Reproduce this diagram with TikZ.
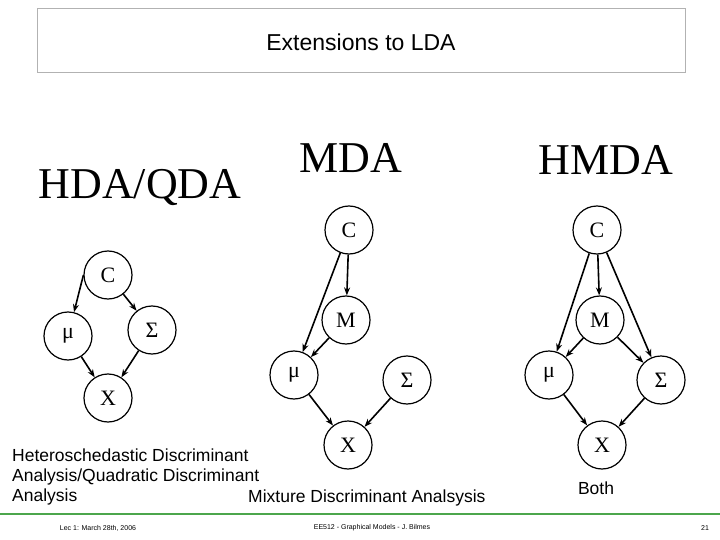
\documentclass[tikz,border=0pt]{standalone}
\usepackage{fontspec}
\setmainfont{Liberation Serif}
\setsansfont{Liberation Sans}
\usetikzlibrary{arrows.meta}
\begin{document}
\begin{tikzpicture}[x=1pt,y=-1pt,
  gnode/.style={draw,circle,minimum size=48pt,inner sep=0pt,line width=1.2pt,font=\fontsize{22}{22}\selectfont},
  edge/.style={-{Stealth[length=8pt,width=6pt]},line width=1.6pt},
  lab/.style={font=\sffamily\fontsize{17.5}{20}\selectfont,inner sep=0pt},
  foot/.style={font=\sffamily\fontsize{7}{8}\selectfont,inner sep=0pt}]
\useasboundingbox (0,0) rectangle (720,540);
\draw[gray!60] (37,8) rectangle (685,72);
\node[font=\sffamily\fontsize{23}{26}\selectfont] (title) at (361,42) {Extensions to LDA};
\node[font=\fontsize{44}{44}\selectfont] (hda) at (140,188) {HDA/QDA};
\node[font=\fontsize{44}{44}\selectfont] (mda) at (351,158) {MDA};
\node[font=\fontsize{44}{44}\selectfont] (hmda) at (606,160) {HMDA};
% HDA
\node[gnode] (c1) at (108,275) {C};
\node[gnode] (m1) at (68,336) {μ};
\node[gnode] (s1) at (152,330) {Σ};
\node[gnode] (x1) at (108,398) {X};
\draw[edge] (c1.west) -- (m1);
\draw[edge] (c1) -- (s1);
\draw[edge] (m1) -- (x1);
\draw[edge] (s1) -- (x1);
% MDA
\node[gnode] (c2) at (349,230) {C};
\node[gnode] (mm2) at (346,320) {M};
\node[gnode] (m2) at (294,375) {μ};
\node[gnode] (s2) at (407,380) {Σ};
\node[gnode] (x2) at (348,445) {X};
\draw[edge] (c2) -- (mm2);
\draw[edge] (c2) -- (m2);
\draw[edge] (mm2) -- (m2);
\draw[edge] (m2) -- (x2);
\draw[edge] (s2) -- (x2);
% HMDA
\node[gnode] (c3) at (597,230) {C};
\node[gnode] (mm3) at (600,320) {M};
\node[gnode] (m3) at (549,375) {μ};
\node[gnode] (s3) at (661,380) {Σ};
\node[gnode] (x3) at (602,445) {X};
\draw[edge] (c3) -- (mm3);
\draw[edge] (c3) -- (m3);
\draw[edge] (c3) -- (s3);
\draw[edge] (mm3) -- (m3);
\draw[edge] (mm3) -- (s3);
\draw[edge] (m3) -- (x3);
\draw[edge] (s3) -- (x3);
% labels
\node[lab,anchor=west,align=left] (hdal) at (12,477) {Heteroschedastic Discriminant\\Analysis/Quadratic Discriminant\\Analysis};
\node[lab,anchor=west] (mdal) at (248,498) {Mixture Discriminant Analsysis};
\node[lab] (both) at (596,488) {Both};
% footer
\draw[green!50!black!70!white,line width=1.5pt] (0,514) -- (720,514);
\node[foot] (f1) at (98,528) {Lec 1: March 28th, 2006};
\node[foot] (f2) at (372,528) {EE512 - Graphical Models - J. Bilmes};
\node[foot] (f3) at (705,528) {21};
\end{tikzpicture}
\end{document}
